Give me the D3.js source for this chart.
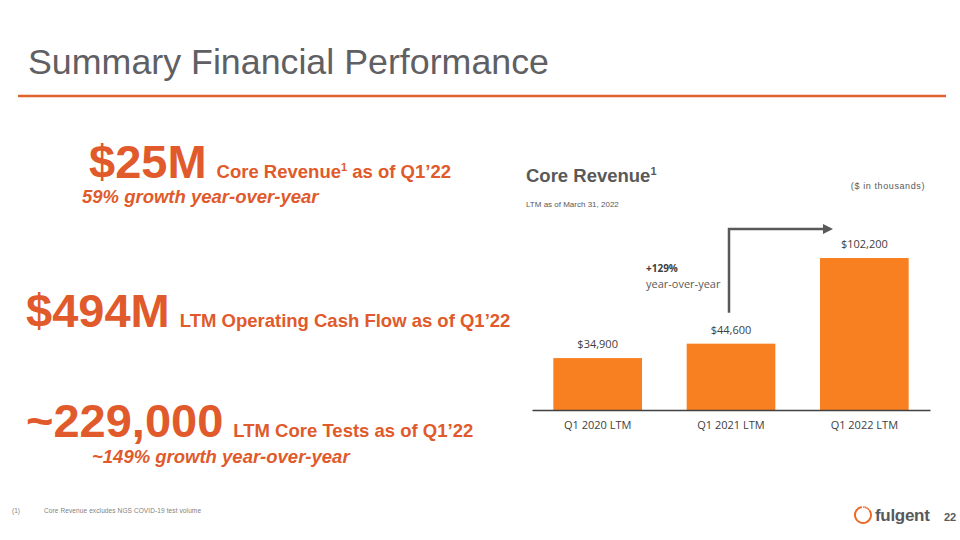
<!DOCTYPE html>
<html>
<head>
<meta charset="utf-8">
<script src="https://cdn.jsdelivr.net/npm/d3@7"></script>
<style>
  body { margin: 0; background: #fff; }
  svg { display: block; }
</style>
</head>
<body>
<svg id="slide" width="960" height="540"></svg>
<script>
const categories = ['Q1 2020 LTM', 'Q1 2021 LTM', 'Q1 2022 LTM']
const coreRevenue = [34900, 44600, 102200]
const valueLabels = ['$34,900', '$44,600', '$102,200']
const growthLabel = ['+129%', 'year-over-year']

const orange = '#e05a2b'
const barOrange = '#f98020'
const gray = '#595959'
const sans = 'Liberation Sans, Arial, sans-serif'

const svg = d3.select('#slide')

// header
svg.append('text')
  .attr('x', 28).attr('y', 74)
  .attr('textLength', 521)
  .attr('lengthAdjust', 'spacingAndGlyphs')
  .style('font', `35px ${sans}`)
  .attr('fill', '#5f6064')
  .text('Summary Financial Performance')

svg.append('line')
  .attr('x1', 18).attr('x2', 946)
  .attr('y1', 96).attr('y2', 96)
  .attr('stroke', '#e0622f').attr('stroke-width', 2.5)

// left side KPIs
const kpi = (x, y, big, small, sup, rest) => {
  const t = svg.append('text')
    .attr('x', x).attr('y', y)
    .attr('fill', orange)
    .style('font-family', sans).style('font-weight', 'bold')
  t.append('tspan').style('font-size', '47px').text(big)
  t.append('tspan').attr('dx', 10).style('font-size', '18.5px').text(small)
  if (sup) {
    t.append('tspan').attr('dy', -7).style('font-size', '11px').text(sup)
    t.append('tspan').attr('dy', 7).style('font-size', '18.5px').text(rest)
  }
}
kpi(89, 178, '$25M', 'Core Revenue', '1', ' as of Q1\u201922')
kpi(26, 327, '$494M', 'LTM Operating Cash Flow as of Q1\u201922')
kpi(26, 437, '~229,000', 'LTM Core Tests as of Q1\u201922')

const sub = (x, y, txt) => svg.append('text')
  .attr('x', x).attr('y', y)
  .attr('fill', orange)
  .style('font', `italic bold 18.5px ${sans}`)
  .text(txt)
sub(82, 203, '59% growth year-over-year')
sub(92, 463, '~149% growth year-over-year')

// chart header
const ct = svg.append('text')
  .attr('x', 526).attr('y', 182)
  .attr('fill', gray)
  .style('font', `bold 18.5px ${sans}`)
ct.append('tspan').text('Core Revenue')
ct.append('tspan').attr('dy', -7).style('font-size', '11px').text('1')

svg.append('text')
  .attr('x', 526).attr('y', 207)
  .attr('fill', gray)
  .style('font', `8px ${sans}`)
  .text('LTM as of March 31, 2022')

svg.append('text')
  .attr('x', 925).attr('y', 189)
  .attr('text-anchor', 'end')
  .attr('fill', gray)
  .style('font', `9px ${sans}`)
  .style('letter-spacing', '0.6px')
  .text('($ in thousands)')

// bar chart
const margin = { top: 258, bottom: 130 }
const baseY = 540 - margin.bottom
const xScale = d3.scaleBand()
  .domain(categories)
  .range([532, 930])
  .paddingInner(0.335)
  .paddingOuter(0.16)
const yScale = d3.scaleLinear()
  .domain([0, d3.max(coreRevenue)])
  .range([baseY, margin.top])

const chart = svg.append('g')

chart.selectAll('rect')
  .data(coreRevenue)
  .enter()
  .append('rect')
  .attr('x', (d, i) => xScale(categories[i]))
  .attr('y', d => yScale(d))
  .attr('width', xScale.bandwidth())
  .attr('height', d => baseY - yScale(d))
  .attr('fill', barOrange)

chart.selectAll('.val')
  .data(coreRevenue)
  .enter()
  .append('text')
  .attr('class', 'val')
  .attr('x', (d, i) => xScale(categories[i]) + xScale.bandwidth() / 2)
  .attr('y', d => yScale(d) - 10)
  .attr('text-anchor', 'middle')
  .attr('fill', '#404040')
  .style('font', '11px "Open Sans", sans-serif')
  .text((d, i) => valueLabels[i])

const axisX = d3.axisBottom(xScale).tickSize(0).tickPadding(11)
const axisG = chart.append('g')
  .attr('transform', `translate(0,${baseY})`)
  .call(axisX)
axisG.select('.domain').attr('stroke', '#404040').attr('stroke-width', 1.5)
axisG.selectAll('text')
  .attr('fill', '#404040')
  .style('font', '11px "Open Sans", sans-serif')

// growth arrow
const x1 = xScale(categories[1]) + xScale.bandwidth() / 2 - 2
const yTop = 229
svg.append('defs').append('marker')
  .attr('id', 'arrow')
  .attr('viewBox', '0 0 10 10')
  .attr('refX', 2).attr('refY', 5)
  .attr('markerWidth', 4).attr('markerHeight', 4)
  .attr('orient', 'auto')
  .append('path')
  .attr('d', 'M0,0L10,5L0,10Z')
  .attr('fill', gray)

svg.append('path')
  .attr('d', `M${x1},${yScale(coreRevenue[1]) - 31}V${yTop}H${xScale(categories[2]) + 5}`)
  .attr('fill', 'none')
  .attr('stroke', gray)
  .attr('stroke-width', 2.5)
  .attr('marker-end', 'url(#arrow)')

svg.append('text')
  .attr('x', 646).attr('y', 272)
  .attr('fill', '#404040')
  .style('font', 'bold 10px "Open Sans", sans-serif')
  .text(growthLabel[0])
svg.append('text')
  .attr('x', 646).attr('y', 288)
  .attr('fill', '#595959')
  .style('font', '11px "Open Sans", sans-serif')
  .text(growthLabel[1])

// footnote
svg.append('text')
  .attr('x', 12).attr('y', 513)
  .attr('fill', '#7f7f7f')
  .style('font', `6.5px ${sans}`)
  .text('(1)')
svg.append('text')
  .attr('x', 44).attr('y', 513)
  .attr('textLength', 157)
  .attr('fill', '#7f7f7f')
  .style('font', `6.5px ${sans}`)
  .text('Core Revenue excludes NGS COVID-19 test volume')

// logo
const logo = svg.append('g').attr('transform', 'translate(863,515)')
const arc = d3.arc().innerRadius(7).outerRadius(9)
logo.append('path')
  .attr('d', arc({ startAngle: 0.9, endAngle: 2 * Math.PI - 0.15 }))
  .attr('fill', '#ee6a2a')
d3.range(4).forEach(i => {
  const a = 0.1 + i * 0.22
  logo.append('circle')
    .attr('cx', 8 * Math.sin(a)).attr('cy', -8 * Math.cos(a))
    .attr('r', 0.9)
    .attr('fill', '#ee6a2a')
})
svg.append('text')
  .attr('x', 875).attr('y', 521)
  .attr('fill', '#58595b')
  .style('font', `bold 17px ${sans}`)
  .style('letter-spacing', '-0.3px')
  .text('fulgent')
svg.append('text')
  .attr('x', 944).attr('y', 521)
  .attr('fill', '#58595b')
  .style('font', `bold 11px ${sans}`)
  .text('22')
</script>
</body>
</html>
